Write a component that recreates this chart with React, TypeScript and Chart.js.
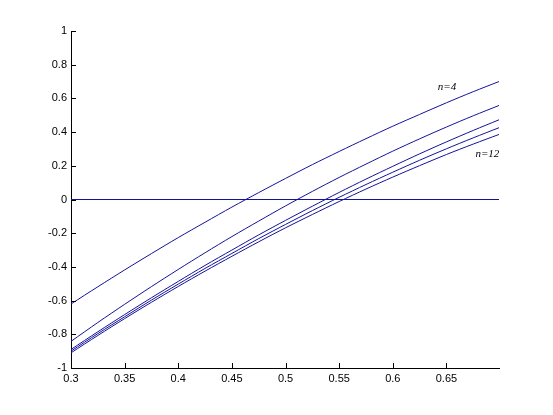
import React, { useEffect, useRef } from "react";
import { Chart, registerables } from "chart.js";

Chart.register(...registerables);

const xValues = [0.3, 0.325, 0.35, 0.375, 0.4, 0.425, 0.45, 0.475, 0.5, 0.525, 0.55, 0.575, 0.6, 0.625, 0.65, 0.675, 0.699];
const curveN4 = [-0.62, -0.518, -0.418, -0.321, -0.226, -0.135, -0.045, 0.041, 0.125, 0.207, 0.285, 0.361, 0.435, 0.505, 0.574, 0.64, 0.7];
const curveN6 = [-0.842, -0.73, -0.622, -0.517, -0.415, -0.316, -0.22, -0.128, -0.038, 0.048, 0.131, 0.21, 0.287, 0.36, 0.43, 0.497, 0.558];
const curveN8 = [-0.89, -0.785, -0.683, -0.583, -0.486, -0.391, -0.3, -0.21, -0.124, -0.04, 0.042, 0.121, 0.197, 0.271, 0.342, 0.41, 0.473];
const curveN10 = [-0.9, -0.796, -0.696, -0.597, -0.502, -0.409, -0.32, -0.232, -0.148, -0.066, 0.013, 0.089, 0.162, 0.233, 0.301, 0.366, 0.426];
const curveN12 = [-0.91, -0.807, -0.707, -0.61, -0.516, -0.425, -0.337, -0.251, -0.168, -0.089, -0.012, 0.062, 0.133, 0.201, 0.267, 0.329, 0.386];
const zeroLineX = [0.3, 0.699];
const zeroLineY = [0, 0];

const xTicks = [0.3, 0.35, 0.4, 0.45, 0.5, 0.55, 0.6, 0.65];
const yTicks = [-1, -0.8, -0.6, -0.4, -0.2, 0, 0.2, 0.4, 0.6, 0.8, 1];

const labels = [
  { text: "n=4", x: 0.642, y: 0.665 },
  { text: "n=12", x: 0.677, y: 0.267 },
];

const LINE = "#12129a";

function pts(xs: number[], ys: number[]) {
  return xs.map((x, i) => ({ x, y: ys[i] }));
}

const inwardTicks = {
  id: "inwardTicks",
  afterDraw(chart: any) {
    const ctx = chart.ctx;
    const xs = chart.scales.x;
    const ys = chart.scales.y;
    const area = chart.chartArea;
    ctx.save();
    ctx.strokeStyle = "#000";
    ctx.lineWidth = 1;
    ctx.beginPath();
    xTicks.forEach((v) => {
      const px = Math.round(xs.getPixelForValue(v)) + 0.5;
      ctx.moveTo(px, area.bottom);
      ctx.lineTo(px, area.bottom - 5);
    });
    yTicks.forEach((v) => {
      const py = Math.round(ys.getPixelForValue(v)) + 0.5;
      ctx.moveTo(area.left, py);
      ctx.lineTo(area.left + 5, py);
    });
    ctx.stroke();
    ctx.fillStyle = "#000";
    ctx.font = "italic 11px 'Liberation Serif', 'DejaVu Serif', serif";
    ctx.textBaseline = "middle";
    ctx.textAlign = "left";
    labels.forEach((l) => {
      ctx.fillText(l.text, xs.getPixelForValue(l.x), ys.getPixelForValue(l.y));
    });
    ctx.restore();
  },
};

export default function App() {
  const ref = useRef<HTMLCanvasElement | null>(null);
  useEffect(() => {
    document.body.style.margin = "0";
    const ds = (data: number[], ys?: number[]) => ({
      data: ys ? pts(data, ys) : [],
      borderColor: LINE,
      borderWidth: 1,
      pointRadius: 0,
      fill: false,
      tension: 0.3,
    });
    const chart = new Chart(ref.current as HTMLCanvasElement, {
      type: "line",
      data: {
        datasets: [
          ds(xValues, curveN4),
          ds(xValues, curveN6),
          ds(xValues, curveN8),
          ds(xValues, curveN10),
          ds(xValues, curveN12),
          { ...ds(zeroLineX, zeroLineY), tension: 0 },
        ],
      },
      options: {
        responsive: false,
        animation: false,
        events: [],
        layout: { padding: { top: 31, right: 54, left: 0, bottom: 0 } },
        plugins: { legend: { display: false }, tooltip: { enabled: false } },
        scales: {
          x: {
            type: "linear",
            min: 0.3,
            max: 0.699,
            afterBuildTicks: (s: any) => {
              s.ticks = xTicks.map((v) => ({ value: v }));
            },
            afterFit: (s: any) => {
              s.height = 47;
            },
            grid: { drawOnChartArea: false, drawTicks: false },
            border: { display: true, color: "#000", width: 1 },
            ticks: {
              color: "#000",
              padding: 4,
              maxRotation: 0,
              autoSkip: false,
              font: { family: "'Liberation Sans', Arial, sans-serif", size: 11 },
              callback: (v: any) => String(Number(v)),
            },
          },
          y: {
            type: "linear",
            min: -1,
            max: 1,
            afterBuildTicks: (s: any) => {
              s.ticks = yTicks.map((v) => ({ value: v }));
            },
            afterFit: (s: any) => {
              s.width = 71;
            },
            grid: { drawOnChartArea: false, drawTicks: false },
            border: { display: true, color: "#000", width: 1 },
            ticks: {
              color: "#000",
              padding: 4,
              autoSkip: false,
              font: { family: "'Liberation Sans', Arial, sans-serif", size: 11 },
              callback: (v: any) => String(Number(v)),
            },
          },
        },
      },
      plugins: [inwardTicks],
    });
    return () => chart.destroy();
  }, []);
  return (
    <div style={{ width: 553, height: 415, background: "#fff" }}>
      <canvas ref={ref} width={553} height={415} style={{ display: "block" }} />
    </div>
  );
}
